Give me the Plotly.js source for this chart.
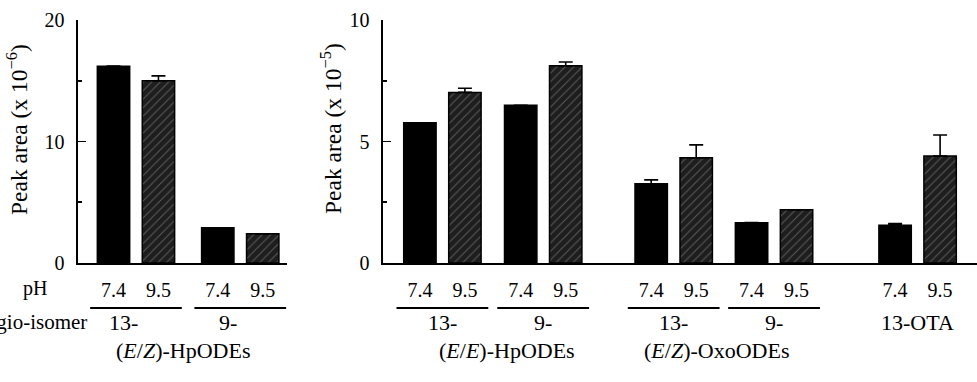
<!DOCTYPE html>
<html><head><meta charset="utf-8">
<script src="https://cdn.plot.ly/plotly-3.0.1.min.js"></script>
<style>body{margin:0;background:#fff}#chart{width:977px;height:382px}</style>
</head><body><div id="chart"></div>
<script>
// ---------- data ----------
const pHLabels = ['7.4', '9.5'];

// left panel: (E/Z)-HpODEs, Peak area (x 10^-6)
const leftIsomers = ['13-', '9-'];
const leftFamily = '(<i>E</i>/<i>Z</i>)-HpODEs';
const leftTitle = 'Peak area (x 10<sup>−6</sup>)';
const leftPH74 = [16.2, 2.9];
const leftErr74 = [0, 0];
const leftPH95 = [15.0, 2.4];
const leftErr95 = [0.4, 0];

// right panel: Peak area (x 10^-5)
const rightIsomers = ['13-', '9-', '13-', '9-', '13-OTA'];
const rightFamilies = ['(<i>E</i>/<i>E</i>)-HpODEs', '(<i>E</i>/<i>Z</i>)-OxoODEs'];
const rightTitle = 'Peak area (x 10<sup>−5</sup>)';
const rightPH74 = [5.77, 6.49, 3.26, 1.66, 1.55];
const rightErr74 = [0, 0, 0.16, 0, 0.07];
const rightPH95 = [7.02, 8.12, 4.33, 2.19, 4.40];
const rightErr95 = [0.17, 0.15, 0.53, 0, 0.87];

// ---------- layout constants (positions in bar-slot units) ----------
const leftCenters = [0, 2.32];
const rightCenters = [0, 2.24, 5.14, 7.37, 10.56];
const rightFamilyMembers = [[0, 1], [2, 3]];
const rightUnderlined = [true, true, true, true, false];
const HALF = 0.5, BARW = 0.72;
const FONT = 'Liberation Serif';
const W = 977, H = 382;

const hatch = {shape: '/', fgcolor: '#5c5c5c', bgcolor: '#1e1e1e', size: 6, solidity: 0.16};

function fnt(size) { return {family: FONT, size: size || 20, color: '#000'}; }

function bars(centers, v74, e74, v95, e95, xa, ya) {
  const z = v74.map(() => 0);
  const common = {type: 'bar', width: BARW, xaxis: xa, yaxis: ya, showlegend: false, hoverinfo: 'y'};
  const eb = (arr) => ({type: 'data', symmetric: false, array: arr, arrayminus: z,
    color: '#000', thickness: 1.6, width: 7, visible: true});
  return [
    Object.assign({}, common, {x: centers.map(c => c - HALF), y: v74, error_y: eb(e74),
      marker: {color: '#000', line: {color: '#000', width: 1.5}}}),
    Object.assign({}, common, {x: centers.map(c => c + HALF), y: v95, error_y: eb(e95),
      marker: {color: '#1e1e1e', pattern: hatch, line: {color: '#000', width: 1.5}}})
  ];
}

const data = [
  ...bars(leftCenters, leftPH74, leftErr74, leftPH95, leftErr95, 'x', 'y'),
  ...bars(rightCenters, rightPH74, rightErr74, rightPH95, rightErr95, 'x2', 'y2')
];

const yDom = [(H - 263) / H, (H - 20) / H];

function xAxis(centers, range, domain, anchor) {
  return {
    domain: domain, range: range, anchor: anchor,
    showline: true, linecolor: '#000', linewidth: 1.6,
    showgrid: false, zeroline: false, ticks: '',
    tickmode: 'array',
    tickvals: centers.flatMap(c => [c - HALF, c + HALF]),
    ticktext: centers.flatMap(() => pHLabels),
    tickfont: fnt(20), ticklabelstandoff: 8, fixedrange: true
  };
}
function yAxis(range, dtick, anchor) {
  return {
    domain: yDom, range: range, anchor: anchor,
    showline: true, linecolor: '#000', linewidth: 1.6,
    showgrid: false, zeroline: false,
    tickmode: 'linear', tick0: 0, dtick: dtick,
    ticks: 'inside', ticklen: 8, tickwidth: 1.6, tickcolor: '#000',
    minor: {dtick: dtick / 2, ticks: 'inside', ticklen: 4, tickwidth: 1.6, tickcolor: '#000', showgrid: false},
    tickfont: fnt(20), ticklabelstandoff: 8,
    fixedrange: true
  };
}

const ann = [];
const shapes = [];
const yLab1 = (H - 322) / H, yLab2 = (H - 350) / H, yLine = (H - 308) / H, yPH = (H - 288) / H;
const GL = 22;

function addGroupLabels(centers, isomers, underlined, xref, shift) {
  centers.forEach((c, i) => {
    ann.push({xref: xref, yref: 'paper', x: c, y: yLab1, text: isomers[i], showarrow: false,
      xanchor: 'center', yanchor: 'middle', xshift: shift, font: fnt(GL)});
    if (underlined[i]) {
      shapes.push({type: 'line', xref: xref, yref: 'paper', x0: c - 1.02, x1: c + 1.02, y0: yLine, y1: yLine,
        line: {color: '#000', width: 2}});
    }
  });
}
addGroupLabels(leftCenters, leftIsomers, [true, true], 'x', -12);
addGroupLabels(rightCenters, rightIsomers, rightUnderlined, 'x2', 0);

ann.push({xref: 'x', yref: 'paper', x: (leftCenters[0] + leftCenters[1]) / 2, y: yLab2, text: leftFamily,
  showarrow: false, xanchor: 'center', yanchor: 'middle', xshift: -5, font: fnt(GL)});
rightFamilies.forEach((f, k) => {
  const m = rightFamilyMembers[k];
  ann.push({xref: 'x2', yref: 'paper', x: (rightCenters[m[0]] + rightCenters[m[1]]) / 2, y: yLab2, text: f,
    showarrow: false, xanchor: 'center', yanchor: 'middle', xshift: k === 0 ? 14 : -7, font: fnt(GL)});
});
ann.push({xref: 'paper', yref: 'paper', x: 35 / W, y: yPH, text: 'pH', showarrow: false,
  xanchor: 'center', yanchor: 'middle', font: fnt(20)});
ann.push({xref: 'paper', yref: 'paper', x: 89 / W, y: yLab1, text: 'Regio-isomer', showarrow: false,
  xanchor: 'right', yanchor: 'middle', font: fnt(21)});
// y-axis titles
ann.push({xref: 'paper', yref: 'paper', x: 17 / W, y: (H - 130) / H, text: leftTitle, textangle: -90,
  showarrow: false, xanchor: 'center', yanchor: 'middle', font: fnt(23.5)});
ann.push({xref: 'paper', yref: 'paper', x: 331 / W, y: (H - 129) / H, text: rightTitle, textangle: -90,
  showarrow: false, xanchor: 'center', yanchor: 'middle', font: fnt(23.5)});

const layout = {
  width: W, height: H,
  margin: {l: 0, r: 0, t: 0, b: 0},
  paper_bgcolor: '#fff', plot_bgcolor: 'rgba(0,0,0,0)',
  bargap: 0,
  xaxis: xAxis(leftCenters, [-1.29, 3.36], [78 / W, 287 / W], 'y'),
  yaxis: yAxis([0, 20], 10, 'x'),
  xaxis2: xAxis(rightCenters, [-1.32, 11.88], [383 / W, 1], 'y2'),
  yaxis2: yAxis([0, 10], 5, 'x2'),
  annotations: ann,
  shapes: shapes
};

Plotly.newPlot('chart', data, layout, {displayModeBar: false, staticPlot: true});
</script>
</body></html>
